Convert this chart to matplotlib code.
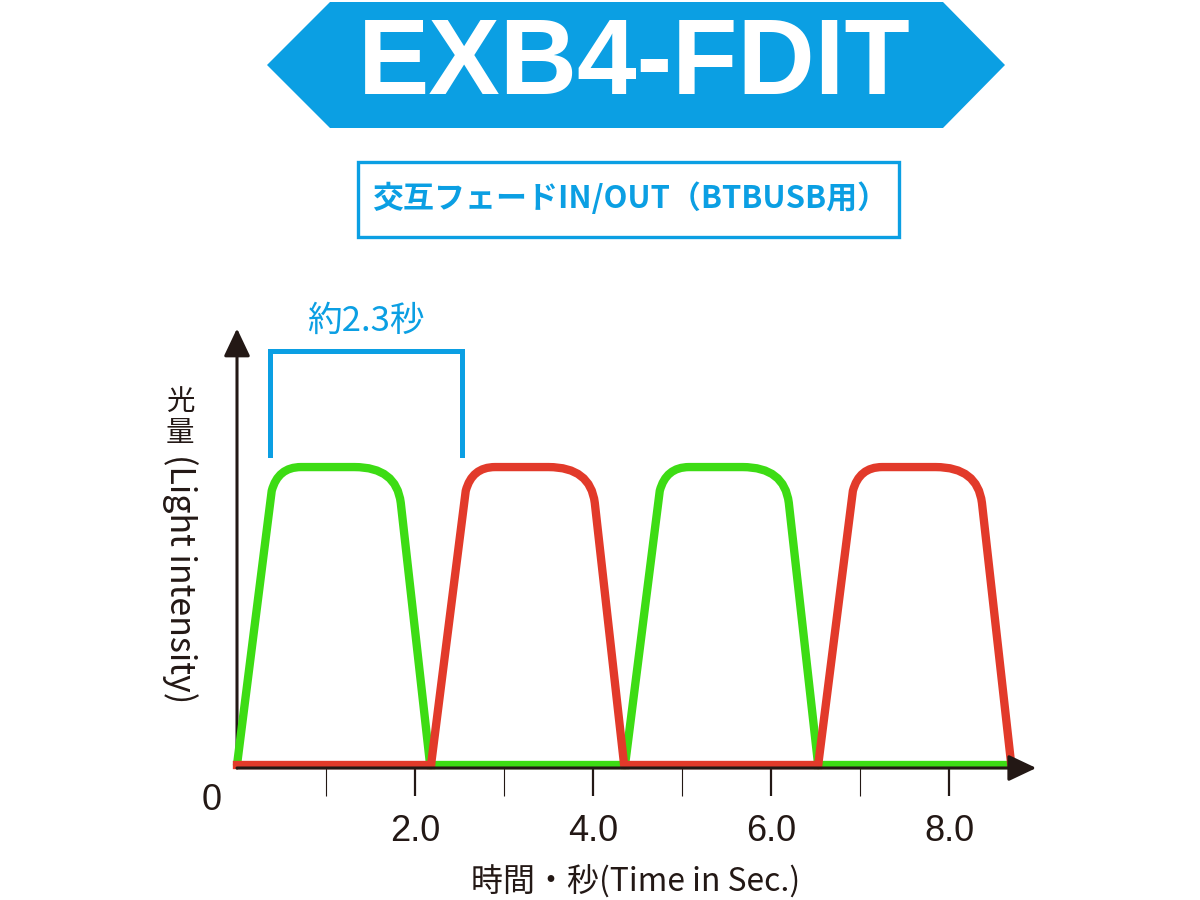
"""
EXB4-FDIT: alternating fade in/out (green / red)
"""
import matplotlib
matplotlib.use("Agg")
import matplotlib.pyplot as plt
from matplotlib import font_manager
from matplotlib.path import Path
from matplotlib.patches import PathPatch, Polygon, Rectangle

# text
TITLE = "EXB4-FDIT"
SUBTITLE = "交互フェードIN/OUT（BTBUSB用）"
BRACKET_LABEL = "約2.3秒"
X_LABEL = "時間・秒(Time in Sec.)"
Y_LABEL_CJK = ["光", "量"]
Y_LABEL_LATIN = "(Light intensity)"

# axis ticks
MAJOR_TICKS = [2.0, 4.0, 6.0, 8.0]
MAJOR_LABELS = ["2.0", "4.0", "6.0", "8.0"]
MINOR_TICKS = [1.0, 3.0, 5.0, 7.0]

# one fade pulse, time relative to its start, intensity 0..1
PULSE_T = [0.0, 0.39, 0.46, 0.72, 1.32, 1.79, 1.84, 2.17]
PULSE_Y = [0.0, 0.92, 1.0, 1.0, 1.0, 1.0, 0.88, 0.0]
PULSE_KIND = ["move", "line", "curve", "curve", "line", "curve", "curve", "line"]

# when each colour pulses, and when it sits at zero
GREEN_STARTS = [0.0, 4.36]
RED_STARTS = [2.18, 6.53]
GREEN_OFF = [(2.18, 4.36), (6.53, 8.68)]
RED_OFF = [(0.0, 2.18), (4.36, 6.53)]

# "about 2.3 s" bracket
BRACKET_X = [0.37, 0.37, 2.53, 2.53]
BRACKET_Y = [1.04, 1.39, 1.39, 1.04]

GREEN = "#3ddc14"
RED = "#e23a2a"
BLUE = "#0b9fe3"
INK = "#231815"


def pick(names):
    have = {f.name for f in font_manager.fontManager.ttflist}
    out = [n for n in names if n in have]
    return out or ["DejaVu Sans"]


NARROW = pick(["Liberation Sans Narrow", "DejaVu Sans Condensed", "Liberation Sans"])
JP = ["Noto Sans CJK JP", "DejaVu Sans"]

plt.rcParams["font.family"] = JP


def pulse_path(start):
    codes = {"move": Path.MOVETO, "line": Path.LINETO, "curve": Path.CURVE3}
    verts = [(start + t, y) for t, y in zip(PULSE_T, PULSE_Y)]
    return Path(verts, [codes[k] for k in PULSE_KIND])


fig = plt.figure(figsize=(12, 9), dpi=100)

# title banner
W, H = 1200.0, 900.0
banner = [(267, 65), (330, 2), (943, 2), (1005, 65), (943, 128), (330, 128)]
fig.patches.append(Polygon([(x / W, 1 - y / H) for x, y in banner], closed=True,
                           transform=fig.transFigure, facecolor=BLUE,
                           edgecolor="none"))
fig.text(634 / W, 1 - 66 / H, TITLE, color="white", fontsize=77,
         fontweight="bold", family=NARROW, ha="center", va="center")

# subtitle box
fig.patches.append(Rectangle((358 / W, 1 - 237 / H), 541 / W, 75 / H,
                             transform=fig.transFigure, facecolor="white",
                             edgecolor=BLUE, linewidth=2.4))
fig.text(630 / W, 1 - 199 / H, SUBTITLE, color=BLUE, fontsize=22.3,
         fontweight="bold", ha="center", va="center")

# plot area: x 0..9 -> 237..1038 px, y -0.01..1.46 -> 768..330 px
ax = fig.add_axes([237 / W, 1 - 768 / H, 801 / W, 438 / H])
ax.set_xlim(0, 9.0)
ax.set_ylim(-0.01, 1.46)
for side in ["top", "right", "left", "bottom"]:
    ax.spines[side].set_visible(False)

for start in GREEN_STARTS:
    ax.add_patch(PathPatch(pulse_path(start), facecolor="none", edgecolor=GREEN,
                           linewidth=6, capstyle="round", joinstyle="round",
                           clip_on=False, zorder=3))
for a, b in GREEN_OFF:
    ax.plot([a, b], [0, 0], color=GREEN, linewidth=6, clip_on=False, zorder=3)
for start in RED_STARTS:
    ax.add_patch(PathPatch(pulse_path(start), facecolor="none", edgecolor=RED,
                           linewidth=6, capstyle="round", joinstyle="round",
                           clip_on=False, zorder=4))
for a, b in RED_OFF:
    ax.plot([a, b], [0, 0], color=RED, linewidth=6, clip_on=False, zorder=4)

# axes with arrow heads
arrow = dict(arrowstyle="-|>,head_length=0.95,head_width=0.45", color=INK,
             linewidth=2.2, mutation_scale=18, shrinkA=0, shrinkB=0)
ax.annotate("", xy=(8.98, -0.01), xytext=(0, -0.01), arrowprops=arrow,
            annotation_clip=False, zorder=5)
ax.annotate("", xy=(0, 1.465), xytext=(0, -0.01), arrowprops=arrow,
            annotation_clip=False, zorder=2)

ax.set_xticks(MAJOR_TICKS)
ax.set_xticklabels(MAJOR_LABELS, family=NARROW, fontsize=26, color=INK)
ax.set_xticks(MINOR_TICKS, minor=True)
ax.set_yticks([])
ax.tick_params(axis="x", which="major", direction="out", length=20, width=1.6,
               color=INK, pad=13)
ax.tick_params(axis="x", which="minor", direction="out", length=20, width=0.8,
               color=INK)
ax.text(-0.28, -0.12, "0", family=NARROW, fontsize=26, color=INK,
        ha="center", va="center")

# bracket and its label
ax.plot(BRACKET_X, BRACKET_Y, color=BLUE, linewidth=3.6, clip_on=False,
        solid_joinstyle="miter")
ax.text(sum(BRACKET_X) / 4, 1.49, BRACKET_LABEL, color=BLUE, fontsize=25,
        ha="center", va="center")

# axis titles
fig.text(636 / W, 1 - 882 / H, X_LABEL, color=INK, fontsize=23,
         ha="center", va="center")
fig.text(180 / W, 1 - 402 / H, Y_LABEL_CJK[0], color=INK, fontsize=20.5,
         ha="center", va="center")
fig.text(180 / W, 1 - 433 / H, Y_LABEL_CJK[1], color=INK, fontsize=20.5,
         ha="center", va="center")
fig.text(180 / W, 1 - 579 / H, Y_LABEL_LATIN, color=INK, fontsize=24.5,
         rotation=-90, ha="center", va="center")

fig.savefig("out.png", dpi=100)
plt.close(fig)
